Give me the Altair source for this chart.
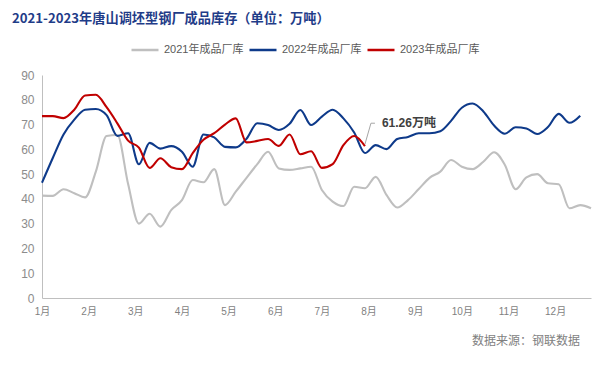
import altair as alt
import pandas as pd

series_names = ["2021年成品厂库", "2022年成品厂库", "2023年成品厂库"]
colors = ["#BFBFBF", "#0E3A8A", "#C00000"]
month_labels = ["1月", "2月", "3月", "4月", "5月", "6月", "7月", "8月", "9月", "10月", "11月", "12月"]

v2021 = [41.3, 41.2, 43.9, 42.3, 40.6, 51.0, 65.4, 65.8, 46.0, 30.0, 34.0, 28.8, 35.5, 39.5,
         47.6, 46.7, 52.0, 37.5, 42.9, 48.5, 54.0, 59.0, 52.3, 51.7, 52.3, 53.0, 43.6, 38.9,
         37.1, 44.9, 44.3, 48.9, 41.6, 36.5, 39.5, 44.0, 48.5, 51.0, 55.7, 53.0, 52.0, 55.0,
         58.8, 53.7, 43.9, 48.7, 50.0, 46.3, 45.9, 36.2, 37.5, 36.2]
v2022 = [46.5, 56.5, 66.0, 72.0, 76.0, 76.3, 73.8, 65.4, 66.5, 54.0, 62.6, 60.3, 61.3, 59.0,
         53.0, 66.0, 64.8, 61.0, 60.8, 64.3, 70.5, 69.8, 67.8, 70.3, 75.9, 69.8, 73.2, 76.0,
         72.5, 66.8, 58.5, 61.7, 60.1, 64.2, 65.0, 66.5, 66.5, 67.3, 71.5, 76.8, 78.5, 75.3,
         69.6, 66.3, 68.9, 68.4, 66.2, 69.0, 74.3, 70.7, 73.6]
v2023 = [73.4, 73.4, 72.6, 76.0, 81.7, 82.0, 77.0, 70.5, 63.5, 60.7, 52.5, 56.4, 52.8, 52.0,
         58.5, 63.9, 66.5, 70.0, 72.5, 62.8, 63.4, 64.2, 61.4, 66.0, 58.0, 59.2, 52.5, 54.0,
         61.7, 65.4, 61.26]
y_ticks = [0, 10, 20, 30, 40, 50, 60, 70, 80, 90]
annotation_text = "61.26万吨"
source_text = "数据来源：钢联数据"
title_text = "2021-2023年唐山调坯型钢厂成品库存（单位：万吨）"

rows = []
for name, vals in zip(series_names, [v2021, v2022, v2023]):
    for i, v in enumerate(vals):
        rows.append({"week": i, "value": v, "series": name})
df = pd.DataFrame(rows)

last = pd.DataFrame({"week": [len(v2023) - 1], "value": [v2023[-1]], "label": [annotation_text]})

tick_pos = [round(k * 52 / 12, 4) for k in range(12)]
label_expr = "[" + ",".join("'" + m + "'" for m in month_labels) + "][round(datum.value*12/52)]"

FONT = "Liberation Sans, Noto Sans CJK SC"
CJK = "Noto Sans CJK SC"

x_axis = alt.Axis(values=tick_pos, labelExpr=label_expr, title=None, grid=False,
                  ticks=False, domainColor="#BFBFBF", domainWidth=1,
                  labelFontSize=10, labelColor="#7F7F7F", labelPadding=8,
                  labelFont=FONT, labelFlush=False, labelOverlap=False)
y_axis = alt.Axis(values=y_ticks, title=None, grid=False, ticks=False,
                  domainColor="#BFBFBF", domainWidth=1, labelFontSize=12,
                  labelColor="#8C8C8C", labelPadding=8, labelFont=FONT,
                  labelFlush=False, labelOverlap=False, tickCount=10)
x_scale = alt.Scale(domain=[0, 51], nice=False, zero=False)
y_scale = alt.Scale(domain=[0, 90], nice=False)


def xe():
    return alt.X("week:Q", scale=x_scale, axis=x_axis)


def ye():
    return alt.Y("value:Q", scale=y_scale, axis=y_axis)


lines = alt.Chart(df).mark_line(strokeWidth=2.1, interpolate="monotone").encode(
    x=xe(), y=ye(),
    color=alt.Color("series:N", scale=alt.Scale(domain=series_names, range=colors),
                    legend=alt.Legend(title=None, orient="none", legendX=88, legendY=-40,
                                      direction="horizontal", symbolType="stroke",
                                      symbolSize=729, symbolStrokeWidth=2.5,
                                      labelFontSize=11, labelColor="#595959", labelFont=FONT,
                                      labelOffset=4, columnPadding=0)),
    detail="series:N",
)

leader = alt.Chart(last).mark_rule(color="#A6A6A6", strokeWidth=1, yOffset=-2,
                                   x2Offset=6, y2Offset=-23).encode(
    x=xe(), y=ye(), x2="week:Q", y2="value:Q")
leader2 = alt.Chart(last).mark_rule(color="#A6A6A6", strokeWidth=1, xOffset=6, yOffset=-23,
                                    x2Offset=10, y2Offset=-23).encode(
    x=xe(), y=ye(), x2="week:Q", y2="value:Q")
label = alt.Chart(last).mark_text(align="left", baseline="middle", dx=17, dy=-23,
                                  fontSize=12, fontWeight="bold", color="#404040",
                                  font=FONT).encode(
    x=xe(), y=ye(), text="label:N")

source = alt.Chart(pd.DataFrame({"t": [source_text]})).mark_text(
    align="right", baseline="middle", fontSize=12, color="#7F7F7F", font=CJK).encode(
    x=alt.value(538), y=alt.value(266), text="t:N")

chart = alt.layer(lines, leader, leader2, label, source).properties(
    width=549, height=223,
    autosize=alt.AutoSizeParams(type="none"),
    padding={"left": 34, "top": 67, "right": 12, "bottom": 63},
    title=alt.TitleParams(text=title_text, anchor="start", frame="group", dx=-30, offset=9,
                          fontSize=13.2, font=CJK, fontWeight="bold", color="#1F3C88"),
).configure_view(stroke=None)

chart.save("out.html", embed_options={"renderer": "svg", "actions": False})
